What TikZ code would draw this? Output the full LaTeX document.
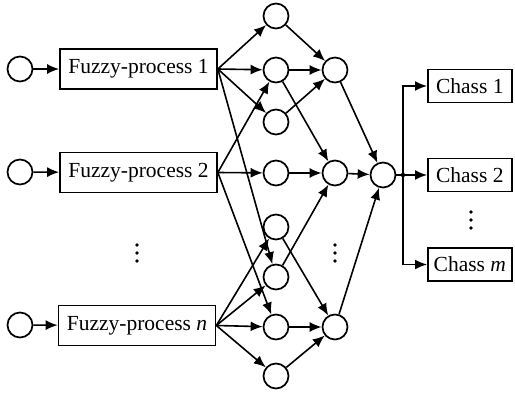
\documentclass[tikz,border=0pt]{standalone}
\usepackage{fontspec}
\setmainfont{Liberation Serif}
\usetikzlibrary{arrows.meta}
\begin{document}
\begin{tikzpicture}[x=1pt,y=-1pt,
  neuron/.style={circle,draw,line width=1.7pt,minimum size=25pt,inner sep=0pt},
  procbox/.style={draw,line width=1.7pt,minimum width=157pt,minimum height=40pt,inner sep=0pt,
    font=\fontsize{21.5}{24}\selectfont},
  classbox/.style={draw,line width=1.7pt,minimum width=84pt,minimum height=33pt,inner sep=0pt,
    font=\fontsize{21.5}{24}\selectfont,anchor=west},
  link/.style={line width=1.6pt,-{Latex[length=12pt,width=10pt]}},
  plain/.style={line width=1.6pt},
  vdot/.style={fill=black,radius=1.8pt},
]
\useasboundingbox (0,0) rectangle (515,395);

% inputs and fuzzy processes
\node[neuron] (in1) at (20,69) {};
\node[neuron] (in2) at (20,172) {};
\node[neuron] (inn) at (20,325) {};
\node[procbox] (f1) at (138.5,69) {Fuzzy-process 1};
\node[procbox] (f2) at (138.5,172.5) {Fuzzy-process 2};
\node[procbox] (fn) at (137,325.5) {Fuzzy-process \textit{n}};

% first hidden layer
\foreach \i/\y in {1/16,2/70,3/122,4/173,5/227,6/277,7/327,8/376}
  \node[neuron] (a\i) at (276,\y) {};

% second hidden layer
\node[neuron] (b1) at (335,70) {};
\node[neuron] (b2) at (335,173) {};
\node[neuron] (b3) at (335,327) {};

% output neuron and branch point
\node[neuron] (o) at (383,175) {};
\coordinate (br) at (403,175);

% classes
\node[classbox] (c1) at (427,86) {Chass 1};
\node[classbox] (c2) at (427,175) {Chass 2};
\node[classbox] (cm) at (427,264.5) {Chass \textit{m}};

% input links
\draw[link] (in1) -- (f1);
\draw[link] (in2) -- (f2);
\draw[link] (inn) -- (fn);

% fuzzy processes to first layer
\foreach \t in {a1,a2,a3,a6} \draw[link] (f1.east) -- (\t);
\foreach \t in {a2,a4,a7} \draw[link] (f2.east) -- (\t);
\foreach \t in {a5,a6,a7,a8} \draw[link] (fn.east) -- (\t);

% first layer to second layer
\foreach \s in {a1,a2,a3} \draw[link] (\s) -- (b1);
\foreach \s in {a2,a4,a6} \draw[link] (\s) -- (b2);
\foreach \s in {a5,a7,a8} \draw[link] (\s) -- (b3);

% second layer to output
\foreach \s in {b1,b2,b3} \draw[link] (\s) -- (o);

% output distribution
\draw[plain] (o) -- (br);
\fill (br) circle[radius=2.2pt];
\draw[link] (br) |- (c1.west);
\draw[link] (br) -- (c2.west);
\draw[link] (br) |- (cm.west);

% ellipses
\foreach \x/\y in {137/245,335/245,471/212}
  \foreach \d in {0,8,16} \fill (\x,\y+\d) circle[vdot];
\end{tikzpicture}
\end{document}
